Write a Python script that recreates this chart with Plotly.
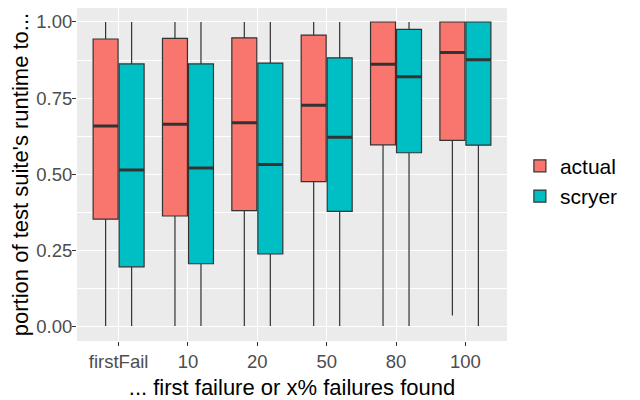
import plotly.graph_objects as go

# valores (proporção do tempo total da suíte)
categorias = ["firstFail", "10", "20", "50", "80", "100"]

actual_min = [0.0, 0.0, 0.0, 0.0, 0.0, 0.035]
actual_q1 = [0.352, 0.362, 0.380, 0.475, 0.596, 0.611]
actual_med = [0.658, 0.664, 0.669, 0.726, 0.861, 0.900]
actual_q3 = [0.944, 0.946, 0.948, 0.957, 1.0, 1.0]
actual_max = [1.0, 1.0, 1.0, 1.0, 1.0, 1.0]

scryer_min = [0.0, 0.0, 0.0, 0.0, 0.0, 0.0]
scryer_q1 = [0.195, 0.205, 0.237, 0.377, 0.570, 0.595]
scryer_med = [0.513, 0.520, 0.531, 0.621, 0.820, 0.876]
scryer_q3 = [0.862, 0.862, 0.865, 0.882, 0.976, 1.0]
scryer_max = [1.0, 1.0, 1.0, 1.0, 1.0, 1.0]

y_ticks = [0.0, 0.25, 0.5, 0.75, 1.0]
y_tick_labels = ["0.00", "0.25", "0.50", "0.75", "1.00"]

FONTE = "Liberation Sans"


def caixa(nome, cor, lo, q1, med, q3, hi):
    return go.Box(
        name=nome, x=categorias, offsetgroup=nome,
        lowerfence=lo, q1=q1, median=med, q3=q3, upperfence=hi,
        fillcolor=cor, line=dict(color="#333333", width=1.2),
        whiskerwidth=0, boxpoints=False,
    )


# linha da mediana mais grossa (como no ggplot)
def mediana(nome, med):
    return go.Box(
        name=nome, x=categorias, offsetgroup=nome,
        lowerfence=med, q1=med, median=med, q3=med, upperfence=med,
        fillcolor="rgba(0,0,0,0)", line=dict(color="#333333", width=3),
        whiskerwidth=0, boxpoints=False, showlegend=False, hoverinfo="skip",
    )


fig = go.Figure()
fig.add_trace(caixa("actual", "#F8766D", actual_min, actual_q1, actual_med, actual_q3, actual_max))
fig.add_trace(caixa("scryer", "#00BFC4", scryer_min, scryer_q1, scryer_med, scryer_q3, scryer_max))
fig.add_trace(mediana("actual", actual_med))
fig.add_trace(mediana("scryer", scryer_med))

# a página tem 8px de margem no body, por isso 632x392
fig.update_layout(
    width=632, height=392,
    margin=dict(l=69, r=133, t=0, b=59),
    paper_bgcolor="white", plot_bgcolor="#EBEBEB",
    boxmode="group", boxgap=0.25, boxgroupgap=0.04,
    font=dict(family=FONTE, color="black"),
    legend=dict(
        x=1.03, xanchor="left", y=0.48, yanchor="middle",
        font=dict(size=21, color="black"), tracegroupgap=0,
        itemwidth=30,
    ),
)
fig.update_xaxes(
    type="category", range=[-0.6, 5.6],
    showgrid=True, gridcolor="white", gridwidth=1.2,
    ticks="outside", ticklen=4, tickcolor="#333333",
    tickfont=dict(size=18.5, color="#4D4D4D"),
    title=dict(text="... first failure or x% failures found", font=dict(size=22)),
    zeroline=False, automargin=False,
)
fig.update_yaxes(
    range=[-0.049, 1.046],
    tickvals=y_ticks, ticktext=y_tick_labels,
    showgrid=True, gridcolor="white", gridwidth=1.2,
    minor=dict(dtick=0.125, tick0=0.125, showgrid=True, gridcolor="white", gridwidth=0.5),
    ticks="outside", ticklen=4, tickcolor="#333333", ticklabelstandoff=-4,
    tickfont=dict(size=18.5, color="#4D4D4D"),
    title=dict(text="portion of test suite's runtime to...", font=dict(size=22)),
    zeroline=False, automargin=False,
)

fig.write_html("out.html")
